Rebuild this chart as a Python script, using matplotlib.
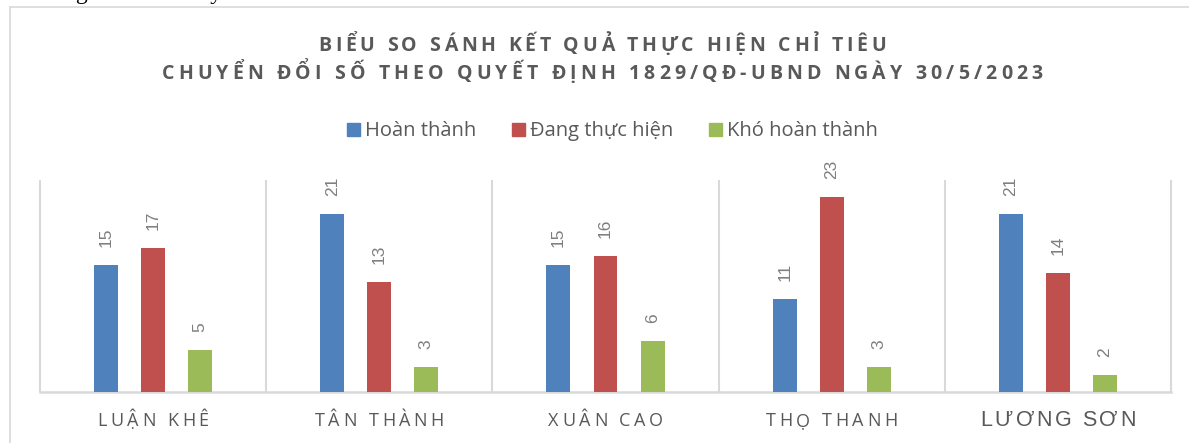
import matplotlib
matplotlib.use('Agg')
import matplotlib.pyplot as plt
import numpy as np
from matplotlib import font_manager, ft2font
from matplotlib.lines import Line2D
from matplotlib.patches import Rectangle

# data
communes = ['LUẬN KHÊ', 'TÂN THÀNH', 'XUÂN CAO', 'THỌ THANH', 'LƯƠNG SƠN']
series_names = ['Hoàn thành', 'Đang thực hiện', 'Khó hoàn thành']
hoan_thanh = [15, 21, 15, 11, 21]
dang_thuc_hien = [17, 13, 16, 23, 14]
kho_hoan_thanh = [5, 3, 6, 3, 2]
title_lines = ['BIỂU SO SÁNH KẾT QUẢ THỰC HIỆN CHỈ TIÊU',
               'CHUYỂN ĐỔI SỐ THEO QUYẾT ĐỊNH 1829/QĐ-UBND NGÀY 30/5/2023']

colors = ['#4F81BD', '#C0504D', '#9BBB59']
grey = '#595959'
line_grey = '#D9D9D9'

W, H, DPI = 1189, 443, 100
fig = plt.figure(figsize=(W / DPI, H / DPI), dpi=DPI)


def advances(s, family, size, weight='normal'):
    prop = font_manager.FontProperties(family=family, weight=weight)
    f = ft2font.FT2Font(font_manager.findfont(prop))
    f.set_size(size, DPI)
    return [f.load_char(ord(c)).linearHoriAdvance / 65536 for c in s]


def spaced(x, y, s, family, size, weight='normal', track=0.0, width=None, color=grey):
    # letter-spaced text, x = centre, y = baseline, both in px from top-left
    adv = advances(s, family, size, weight)
    if width is not None:
        track = (width - sum(adv)) / (len(s) - 1)
    total = sum(adv) + track * (len(s) - 1)
    cx = x - total / 2
    for c, a in zip(s, adv):
        if c != ' ':
            fig.text((cx + a / 2) / W, 1 - y / H, c, ha='center', va='baseline',
                     family=family, fontsize=size, weight=weight, color=color)
        cx += a + track


# outer chart border (cut off on right/bottom)
fig.add_artist(Line2D([10 / W, 10 / W], [0, 1 - 7 / H], transform=fig.transFigure,
                      color=line_grey, lw=1.2))
fig.add_artist(Line2D([10 / W, 1], [1 - 7 / H, 1 - 7 / H], transform=fig.transFigure,
                      color=line_grey, lw=1.2))

# clipped text line of the document above the chart
fig.text(88 / W, 1 + 1 / H, 'Bảng', ha='right', va='baseline',
         family='Liberation Serif', fontsize=17, color='black')
fig.text(223 / W, 1 + 1 / H, 'này', ha='right', va='baseline',
         family='Liberation Serif', fontsize=17, color='black')

# plot area
ax = fig.add_axes([40 / W, 1 - 392 / H, 1131 / W, 212 / H])
x = np.arange(len(communes)) + 0.5
offsets = [-0.208, 0.0, 0.208]
for vals, off, col in zip([hoan_thanh, dang_thuc_hien, kho_hoan_thanh], offsets, colors):
    bars = ax.bar(x + off, vals, width=0.106, color=col, zorder=3)
    for b, v in zip(bars, vals):
        ax.annotate(str(v), (b.get_x() + b.get_width() / 2, v), xytext=(0, 13),
                    textcoords='offset points', rotation=90, ha='center', va='bottom',
                    family='Liberation Sans', fontsize=12.5, color='#7F7F7F')

ax.set_xlim(0, len(communes))
ax.set_ylim(0, 25)
ax.vlines(np.arange(len(communes) + 1), 0, 25, color=line_grey, lw=1.5, clip_on=False)
for s in ['top', 'left', 'right']:
    ax.spines[s].set_visible(False)
ax.spines['bottom'].set_color(line_grey)
ax.spines['bottom'].set_linewidth(1.8)
ax.set_xticks([])
ax.set_yticks([])
ax.patch.set_alpha(0)

# category labels
for i, name in enumerate(communes):
    px = ax.transData.transform((x[i], 0))[0]
    if i == len(communes) - 1:
        spaced(px, 426, name, 'Liberation Sans', 15.5, track=2.5)
    else:
        spaced(px, 426, name, 'Open Sans', 13, track=3.5)

# title
spaced(602, 51, title_lines[0], 'Open Sans', 14, weight='bold', width=568)
spaced(602, 79, title_lines[1], 'Open Sans', 14, weight='bold', width=881)

# legend
leg_size = 14.5
sq, gap_txt, gap_item = 13, 5, 36
widths = [sum(advances(n, 'Open Sans', leg_size)) for n in series_names]
total = sum(sq + gap_txt + w for w in widths) + gap_item * (len(series_names) - 1)
lx = 612 - total / 2
for name, col, w in zip(series_names, colors, widths):
    fig.add_artist(Rectangle((lx / W, 1 - 136 / H), sq / W, sq / H,
                             transform=fig.transFigure, color=col))
    fig.text((lx + sq + gap_txt) / W, 1 - 136 / H, name, ha='left', va='baseline',
             family='Open Sans', fontsize=leg_size, color=grey)
    lx += sq + gap_txt + w + gap_item

fig.savefig('out.png', dpi=DPI)
